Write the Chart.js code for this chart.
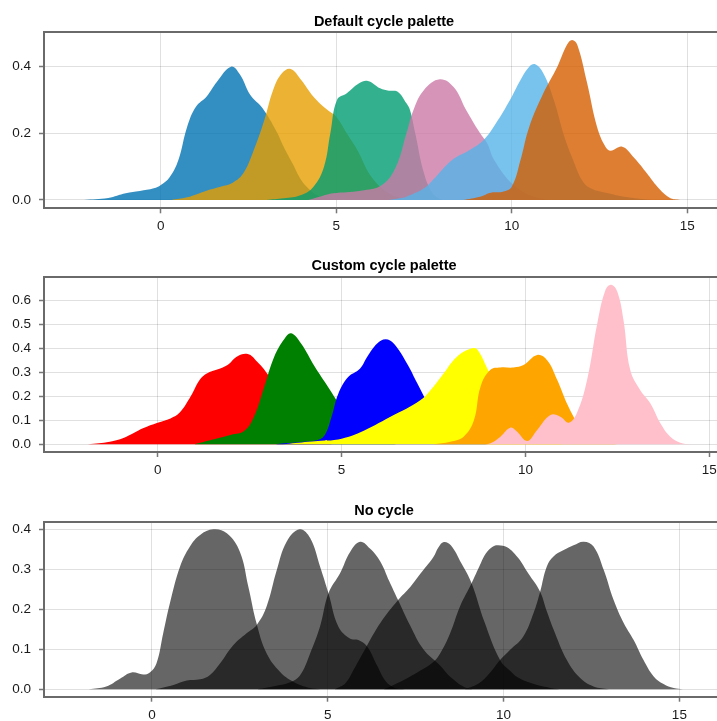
<!DOCTYPE html>
<html>
<head>
<meta charset="utf-8">
<script src="https://cdn.jsdelivr.net/npm/chart.js@4.4.1/dist/chart.umd.min.js"></script>
<style>
  html, body { margin: 0; padding: 0; background: #fff; }
  #wrap { position: relative; width: 717px; height: 721px; }
  canvas { position: absolute; left: 0; }
</style>
</head>
<body>
<div id="wrap">
  <canvas id="c1" width="717" height="240" style="top:0px"></canvas>
  <canvas id="c2" width="717" height="240" style="top:240px"></canvas>
  <canvas id="c3" width="717" height="241" style="top:480px"></canvas>
</div>
<script>
// density curves, [x, density]
const p1Blue = [[-2.2,0],[-1.5,0.006],[-1.0,0.02],[-0.6,0.027],[-0.2,0.035],[0,0.045],[0.25,0.068],[0.5,0.12],[0.75,0.22],[1.0,0.28],[1.3,0.31],[1.6,0.355],[2.0,0.4],[2.25,0.377],[2.55,0.315],[2.9,0.275],[3.3,0.205],[3.5,0.16],[3.75,0.11],[4.0,0.06],[4.25,0.03],[4.5,0.012],[5.0,0]];
const p1Orange = [[0.3,0],[0.75,0.008],[1.3,0.028],[1.7,0.04],[2.05,0.052],[2.35,0.08],[2.65,0.15],[2.95,0.24],[3.2,0.33],[3.45,0.38],[3.7,0.393],[4.0,0.36],[4.35,0.31],[4.75,0.27],[5.0,0.25],[5.3,0.2],[5.6,0.15],[6.0,0.07],[6.5,0.02],[7.0,0]];
const p1Green = [[3.0,0],[3.5,0.005],[4.0,0.015],[4.35,0.04],[4.65,0.1],[4.83,0.2],[5.02,0.3],[5.3,0.32],[5.65,0.35],[5.9,0.357],[6.25,0.335],[6.5,0.328],[6.75,0.325],[7.0,0.29],[7.1,0.27],[7.25,0.2],[7.5,0.08],[7.75,0.02],[8.0,0]];
const p1Pink = [[4.2,0],[4.6,0.012],[4.9,0.02],[5.7,0.028],[6.3,0.045],[6.7,0.1],[7.0,0.2],[7.2,0.27],[7.5,0.33],[7.95,0.362],[8.35,0.338],[8.7,0.27],[9.1,0.2],[9.3,0.17],[9.5,0.12],[10.0,0.05],[10.5,0.015],[11.0,0]];
const p1Sky = [[6.5,0],[6.8,0.005],[7.0,0.01],[7.5,0.035],[7.75,0.06],[8.3,0.12],[8.8,0.15],[9.2,0.18],[9.55,0.23],[9.95,0.3],[10.25,0.36],[10.5,0.4],[10.67,0.407],[10.9,0.38],[11.2,0.3],[11.5,0.19],[11.75,0.12],[12.0,0.06],[12.25,0.035],[12.75,0.02],[13.2,0.01],[14.0,0]];
const p1Vermillion = [[8.6,0],[9.1,0.01],[9.4,0.022],[9.75,0.025],[10.0,0.04],[10.25,0.12],[10.5,0.22],[10.9,0.32],[11.3,0.4],[11.57,0.465],[11.72,0.48],[11.87,0.465],[12.15,0.35],[12.43,0.22],[12.67,0.16],[12.82,0.148],[13.15,0.16],[13.5,0.125],[13.85,0.08],[14.15,0.04],[14.5,0.007],[14.8,0]];

const p2Red = [[-1.9,0],[-1.3,0.011],[-0.85,0.032],[-0.4,0.067],[0,0.09],[0.35,0.108],[0.6,0.132],[0.9,0.2],[1.15,0.27],[1.35,0.296],[1.6,0.31],[1.9,0.33],[2.15,0.365],[2.45,0.376],[2.7,0.345],[3.0,0.29],[3.25,0.22],[3.5,0.14],[4.0,0.04],[4.5,0.005],[5.0,0]];
const p2Green = [[1.0,0],[1.5,0.02],[2.0,0.04],[2.35,0.055],[2.62,0.115],[2.9,0.24],[3.17,0.365],[3.45,0.44],[3.63,0.462],[3.9,0.42],[4.27,0.324],[4.63,0.24],[4.86,0.185],[5.1,0.13],[5.5,0.06],[6.0,0.015],[6.5,0]];
const p2Blue = [[3.2,0],[3.45,0.004],[3.9,0.01],[4.35,0.018],[4.55,0.04],[4.73,0.115],[4.91,0.21],[5.18,0.28],[5.5,0.315],[5.7,0.365],[5.97,0.42],[6.2,0.438],[6.42,0.42],[6.78,0.337],[7.06,0.254],[7.24,0.2],[7.5,0.12],[8.0,0.04],[8.5,0.01],[9.0,0]];
const p2Yellow = [[3.4,0],[4.1,0.011],[4.45,0.015],[4.8,0.018],[5.2,0.032],[5.5,0.049],[6.33,0.115],[7.15,0.185],[7.5,0.24],[7.78,0.296],[8.14,0.365],[8.55,0.4],[8.7,0.393],[8.96,0.317],[9.25,0.22],[9.5,0.12],[10.0,0.04],[10.5,0.01],[11.0,0]];
const p2Orange = [[7.5,0],[7.96,0.011],[8.32,0.032],[8.6,0.1],[8.78,0.24],[9.05,0.31],[9.32,0.32],[9.68,0.32],[9.95,0.33],[10.32,0.372],[10.59,0.35],[10.86,0.27],[11.13,0.17],[11.31,0.115],[11.5,0.06],[12.0,0.015],[12.5,0]];
const p2Pink = [[8.9,0],[9.05,0.004],[9.32,0.032],[9.6,0.07],[9.77,0.053],[10.05,0.014],[10.32,0.06],[10.68,0.122],[10.95,0.115],[11.18,0.09],[11.4,0.13],[11.68,0.27],[11.95,0.5],[12.17,0.64],[12.33,0.664],[12.5,0.635],[12.67,0.515],[12.85,0.31],[13.12,0.226],[13.4,0.17],[13.67,0.088],[13.94,0.032],[14.21,0.007],[14.5,0]];

const p3A = [[-1.8,0],[-1.3,0.007],[-0.9,0.027],[-0.58,0.042],[-0.25,0.037],[-0.06,0.042],[0.13,0.065],[0.32,0.14],[0.51,0.215],[0.8,0.307],[1.08,0.357],[1.37,0.386],[1.75,0.4],[2.13,0.39],[2.5,0.344],[2.74,0.257],[2.98,0.163],[3.26,0.09],[3.64,0.044],[4.02,0.019],[4.5,0.003],[4.8,0]];
const p3B = [[0.1,0],[0.61,0.011],[0.99,0.022],[1.37,0.025],[1.65,0.036],[1.94,0.065],[2.31,0.11],[2.69,0.14],[2.98,0.161],[3.26,0.207],[3.55,0.298],[3.83,0.369],[4.2,0.4],[4.5,0.378],[4.78,0.307],[5.02,0.24],[5.3,0.157],[5.63,0.127],[5.87,0.123],[6.11,0.108],[6.4,0.06],[6.65,0.02],[6.9,0.004],[7.2,0]];
const p3C = [[3.0,0],[3.5,0.008],[4.0,0.02],[4.25,0.04],[4.5,0.09],[4.78,0.157],[5.02,0.24],[5.35,0.29],[5.64,0.344],[5.92,0.369],[6.2,0.352],[6.49,0.32],[6.75,0.27],[7.0,0.223],[7.34,0.16],[7.72,0.1],[8.19,0.06],[8.5,0.03],[8.95,0.003],[9.3,0]];
const p3D = [[5.2,0],[5.5,0.015],[5.73,0.048],[6.11,0.108],[6.49,0.165],[7.0,0.223],[7.34,0.255],[7.6,0.285],[8.0,0.33],[8.15,0.355],[8.3,0.368],[8.5,0.36],[8.8,0.315],[9.09,0.265],[9.45,0.17],[9.9,0.073],[10.2,0.045],[10.4,0.03],[10.8,0.015],[11.3,0.004],[11.6,0]];
const p3E = [[6.6,0],[6.9,0.012],[7.2,0.025],[7.6,0.045],[8.0,0.068],[8.2,0.09],[8.48,0.14],[8.76,0.207],[9.09,0.265],[9.3,0.305],[9.5,0.34],[9.7,0.357],[9.85,0.36],[10.1,0.355],[10.4,0.33],[10.7,0.29],[11.04,0.244],[11.23,0.195],[11.42,0.15],[11.8,0.073],[12.18,0.028],[12.56,0.007],[13.0,0]];
const p3F = [[8.9,0],[9.3,0.015],[9.6,0.04],[9.9,0.073],[10.18,0.098],[10.56,0.132],[10.85,0.19],[11.04,0.244],[11.23,0.307],[11.42,0.332],[11.71,0.348],[11.99,0.36],[12.28,0.369],[12.56,0.357],[12.85,0.298],[13.13,0.223],[13.42,0.165],[13.7,0.123],[13.98,0.073],[14.27,0.032],[14.55,0.013],[14.84,0.003],[15.1,0]];

const xTicks = [0, 5, 10, 15];
const yTicks1 = [0, 0.2, 0.4];
const yTicks2 = [0, 0.1, 0.2, 0.3, 0.4, 0.5, 0.6];
const yTicks3 = [0, 0.1, 0.2, 0.3, 0.4];

const titles = ['Default cycle palette', 'Custom cycle palette', 'No cycle'];

const wongColors = ['rgba(0,114,178,0.8)', 'rgba(230,159,0,0.8)', 'rgba(0,158,115,0.8)',
                    'rgba(204,121,167,0.8)', 'rgba(86,180,233,0.8)', 'rgba(213,94,0,0.8)'];
const customColors = ['red', 'green', 'blue', 'yellow', 'orange', 'pink'];
const greyColors = Array(6).fill('rgba(0,0,0,0.6)');

const FONT = '"Liberation Sans", Arial, Helvetica, sans-serif';
const spine = { color: '#6a6a6a', width: 2 };

// title drawn over the axis box (the box runs a bit past the right edge)
const panelTitle = {
  id: 'panelTitle',
  afterDraw(chart, args, opts) {
    const ctx = chart.ctx;
    const a = chart.chartArea;
    ctx.save();
    ctx.font = 'bold 14.5px ' + FONT;
    ctx.fillStyle = '#000';
    ctx.textAlign = 'center';
    ctx.textBaseline = 'alphabetic';
    ctx.fillText(opts.text, (a.left + a.right) / 2 + 3.5, a.top - 6.5);
    ctx.restore();
  }
};

function densityChart(id, title, series, colors, xMin, xMax, yMin, yMax, yTicks, top, bottom) {
  const canvas = document.getElementById(id);
  const n = series.length;
  return new Chart(canvas, {
    type: 'line',
    data: {
      datasets: series.map((s, i) => ({
        data: s.map(p => ({ x: p[0], y: p[1] })),
        backgroundColor: colors[i],
        borderWidth: 0,
        pointRadius: 0,
        fill: 'origin',
        tension: 0.4,
        order: n - i
      }))
    },
    plugins: [panelTitle],
    options: {
      responsive: false,
      animation: false,
      events: [],
      layout: { padding: { top: top, left: 0, right: 0, bottom: 0 } },
      plugins: {
        legend: { display: false },
        tooltip: { enabled: false },
        title: { display: false },
        panelTitle: { text: title }
      },
      scales: {
        x: {
          type: 'linear',
          min: xMin, max: xMax,
          afterBuildTicks: s => { s.ticks = xTicks.map(v => ({ value: v })); },
          afterFit: s => { s.height = canvas.height - bottom; s.paddingLeft = 0; s.paddingRight = 0; },
          grid: { color: 'rgba(0,0,0,0.12)', lineWidth: 1, tickLength: 5, tickColor: '#777', tickWidth: 1.5 },
          border: spine,
          ticks: { font: { family: FONT, size: 13.5 }, color: '#1a1a1a', padding: 5, maxRotation: 0,
                   callback: v => String(v) }
        },
        x2: {
          type: 'linear',
          position: 'top',
          min: xMin, max: xMax,
          afterFit: s => { s.height = 0; },
          grid: { display: false },
          border: spine,
          ticks: { display: false }
        },
        y: {
          min: yMin, max: yMax,
          afterBuildTicks: s => { s.ticks = yTicks.map(v => ({ value: v })); },
          afterFit: s => { s.width = 44; s.paddingTop = 0; s.paddingBottom = 0; },
          grid: { color: 'rgba(0,0,0,0.12)', lineWidth: 1, tickLength: 5, tickColor: '#777', tickWidth: 1.5 },
          border: spine,
          ticks: { font: { family: FONT, size: 13.5 }, color: '#1a1a1a', padding: 8,
                   callback: v => v.toFixed(1) }
        }
      }
    }
  });
}

densityChart('c1', titles[0], [p1Blue, p1Orange, p1Green, p1Pink, p1Sky, p1Vermillion], wongColors,
  -3.33, 15.85, -0.025, 0.503, yTicks1, 32.3, 208.3);
densityChart('c2', titles[1], [p2Red, p2Green, p2Blue, p2Yellow, p2Orange, p2Pink], customColors,
  -3.09, 15.21, -0.032, 0.698, yTicks2, 36.7, 212);
densityChart('c3', titles[2], [p3A, p3B, p3C, p3D, p3E, p3F], greyColors,
  -3.07, 16.07, -0.0185, 0.419, yTicks3, 41.7, 216.7);
</script>
</body>
</html>
